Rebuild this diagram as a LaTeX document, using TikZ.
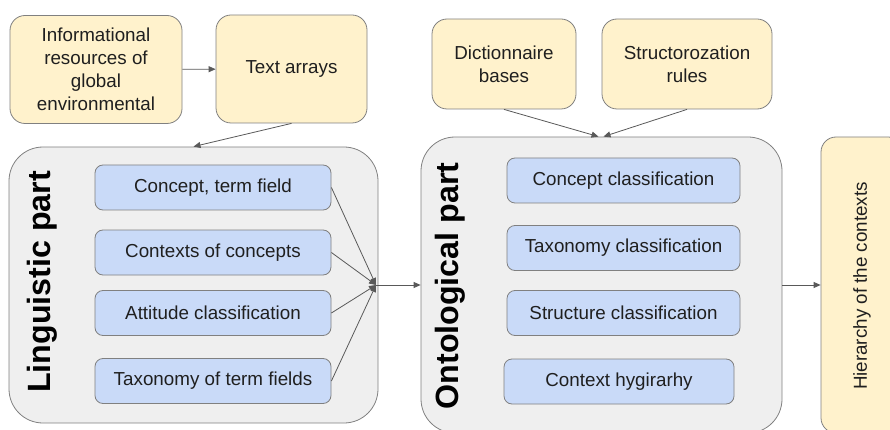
\documentclass[tikz,border=0pt]{standalone}
\usepackage{fontspec}
\setmainfont{Liberation Sans}
\usetikzlibrary{arrows.meta}
\usetikzlibrary{positioning}
\definecolor{srcyellow}{HTML}{FFF2CC}
\definecolor{itemblue}{HTML}{C9DAF8}
\definecolor{partgray}{HTML}{EFEFEF}
\definecolor{boxline}{HTML}{808080}
\definecolor{arrowgray}{HTML}{595959}
\definecolor{textgray}{HTML}{1F1F1F}
\tikzset{%
  >={Triangle[width=6pt,length=7pt]},
  % Specifications for style of nodes:
           base/.style = {rectangle, draw=boxline, line width=0.8pt,
                          text=textgray, align=center,
                          font=\fontsize{18.8}{23}\selectfont},
         source/.style = {base, rounded corners=15pt, fill=srcyellow,
                          minimum height=90pt},
           part/.style = {base, rounded corners=34pt, fill=partgray},
           item/.style = {base, rounded corners=8pt, fill=itemblue,
                          minimum width=236pt, minimum height=45pt},
      partlabel/.style = {rotate=90, text=black,
                          font=\fontsize{32.2}{38}\selectfont\bfseries},
      connector/.style = {->, draw=arrowgray, line width=0.8pt},
}
\begin{document}
\begin{tikzpicture}[x=1pt, y=1pt, node distance=65pt]
\useasboundingbox (0,0) rectangle (890,-430);

% sources on top
\node (IR) [source, minimum width=172pt, minimum height=108pt] at (96,-69.5)
      {Informational\\resources of\\global\\environmental};
\node (TA) [source, minimum width=151pt, minimum height=108pt] at (291.5,-69)
      {Text arrays};
\node (DB) [source, minimum width=144pt] at (504,-64) {Dictionnaire\\bases};
\node (SR) [source, minimum width=170pt] at (687,-64) {Structorozation\\rules};

% the two parts and the result
\node (LP) [part, minimum width=369pt, minimum height=276pt] at (193.5,-285) {};
\node (OP) [part, minimum width=361pt, minimum height=296pt] at (601.5,-285) {};
\node (HC) [source, minimum width=82pt, minimum height=296pt] at (862,-285) {};

\node (LPlabel) [partlabel] at (42,-282) {Linguistic part};
\node (OPlabel) [partlabel] at (450,-286) {Ontological part};
\node (HClabel) [rotate=90, text=textgray, font=\fontsize{18.8}{23}\selectfont]
      at (862,-286) {Hierarchy of the contexts};

% linguistic part
\node (CT) [item] at (213,-187.5) {Concept, term field};
\node (CC) [item, below of=CT, node distance=65pt] {Contexts of concepts};
\node (AC) [item, below of=CC, node distance=60.5pt] {Attitude classification};
\node (TF) [item, below of=AC, node distance=68pt] {Taxonomy of term fields};

% ontological part
\node (CN) [item, minimum width=233pt] at (623.5,-180.5) {Concept classification};
\node (TC) [item, minimum width=233pt, below of=CN, node distance=67.5pt]
      {Taxonomy classification};
\node (SC) [item, minimum width=233pt, below of=TC, node distance=65pt]
      {Structure classification};
\node (CH) [item, minimum width=230pt, below of=SC, node distance=68.5pt,
      xshift=-4.5pt] {Context hygirarhy};

\coordinate (M) at (376,-285);

\draw[connector]      (IR) -- (TA);
\draw[connector]      (TA.south) -- (LP.north);
\draw[connector]      (DB.south) -- ([xshift=-3pt]OP.north);
\draw[connector]      (SR.south) -- ([xshift=2pt]OP.north);
\draw[connector]      (CT.east) -- (M);
\draw[connector]      (CC.east) -- (M);
\draw[connector]      (AC.east) -- (M);
\draw[connector]      (TF.east) -- (M);
\draw[connector]      (M) -- (OP.west);
\draw[connector]      (OP) -- (HC);
\end{tikzpicture}
\end{document}
